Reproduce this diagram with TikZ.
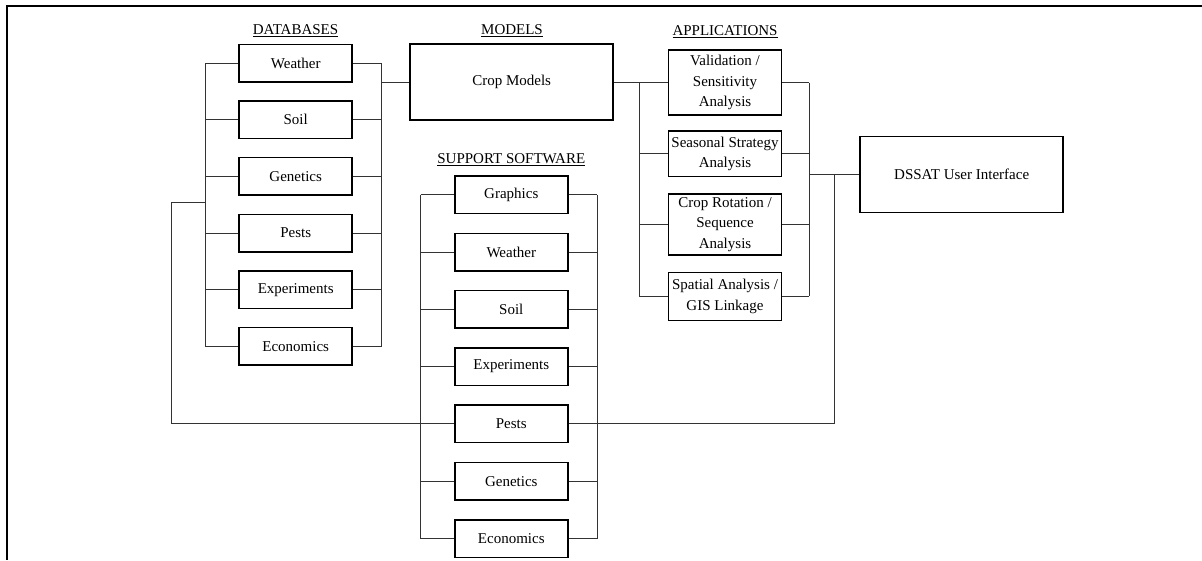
\documentclass[tikz,border=0pt]{standalone}
\usepackage{fontspec}
\setmainfont{Liberation Serif}
\tikzset{
  box/.style={draw, line width=1.5pt, minimum width=113pt, minimum height=37.5pt, inner sep=1pt, align=center},
  bigbox/.style={box, minimum width=203pt, minimum height=76pt},
  link/.style={draw=black!80, line width=0.9pt},
  head/.style={inner sep=0pt}
}
\begin{document}
\begin{tikzpicture}[x=1pt,y=-1pt,font=\fontsize{15}{20.5}\selectfont]
        \useasboundingbox (0,0) rectangle (1202,560);
        \draw[line width=2pt] (7,560) -- (7,6) -- (1202,6);
        % column headings
        \node[head] (hDb) at (295.5,31) {\underline{DATABASES}};
        \node[head] (hModels) at (512,31) {\underline{MODELS}};
        \node[head] (hApps) at (725,31.7) {\underline{APPLICATIONS}};
        \node[head] (hSw) at (511.3,160) {\underline{SUPPORT SOFTWARE}};
        % bus positions
        \coordinate (dbL) at (205,0);
        \coordinate (dbR) at (381.7,0);
        \coordinate (swL) at (420.7,0);
        \coordinate (swR) at (597.3,0);
        \coordinate (apL) at (639.3,0);
        \coordinate (apR) at (809,0);
        \coordinate (uiV) at (834.3,0);
        \coordinate (farL) at (171.7,202.3);
        % databases
        \foreach \name/\txt [count=\i from 0] in {dbWeather/Weather, dbSoil/Soil, dbGenetics/Genetics, dbPests/Pests, dbExperiments/Experiments, dbEconomics/Economics}
            \node[box] (\name) at (295.7,63+56.67*\i) {\txt};
        % support software
        \foreach \name/\txt [count=\i from 0] in {swGraphics/Graphics, swWeather/Weather, swSoil/Soil, swExperiments/Experiments, swPests/Pests, swGenetics/Genetics, swEconomics/Economics}
            \node[box] (\name) at (511.3,194.7+57.3*\i) {\txt};
        % models and interface
        \node[bigbox] (models) at (511.7,82.2) {Crop Models};
        \node[bigbox] (ui) at (961.7,174.7) {DSSAT User Interface};
        % applications
        \node[box, minimum height=65pt] (apValid) at (725,82.5) {Validation /\\Sensitivity\\Analysis};
        \node[box, minimum height=45.7pt] (apSeason) at (725,153.8) {Seasonal Strategy\\Analysis};
        \node[box, minimum height=61pt] (apRotation) at (725,224.5) {Crop Rotation /\\Sequence\\Analysis};
        \node[box, minimum height=48pt] (apSpatial) at (725,296.3) {Spatial Analysis /\\GIS Linkage};
        % database links
        \foreach \n in {dbWeather, dbSoil, dbGenetics, dbPests, dbExperiments, dbEconomics}
            \draw[link] (\n.west) -- (\n.west -| dbL) (\n.east) -- (\n.east -| dbR);
        \draw[link] (dbWeather.west -| dbL) -- (dbEconomics.west -| dbL);
        \draw[link] (dbWeather.east -| dbR) -- (dbEconomics.east -| dbR);
        \draw[link] (models.west) -- (models.west -| dbR);
        % support software links
        \foreach \n in {swGraphics, swWeather, swSoil, swExperiments, swPests, swGenetics, swEconomics}
            \draw[link] (\n.west) -- (\n.west -| swL) (\n.east) -- (\n.east -| swR);
        \draw[link] (swGraphics.west -| swL) -- (swEconomics.west -| swL);
        \draw[link] (swGraphics.east -| swR) -- (swEconomics.east -| swR);
        \draw[link] (farL -| dbL) -- (farL) |- (swPests.west -| swL);
        % application links
        \draw[link] (models.east) -- (models.east -| apL);
        \foreach \n in {apValid, apSeason, apRotation, apSpatial}
            \draw[link] (\n.west) -- (\n.west -| apL) (\n.east) -- (\n.east -| apR);
        \draw[link] (apValid.west -| apL) -- (apSpatial.west -| apL);
        \draw[link] (apValid.east -| apR) -- (apSpatial.east -| apR);
        % interface links
        \draw[link] (ui.west) -- (ui.west -| apR);
        \draw[link] (ui.west -| uiV) |- (swPests.east -| swR);
    \end{tikzpicture}
\end{document}
